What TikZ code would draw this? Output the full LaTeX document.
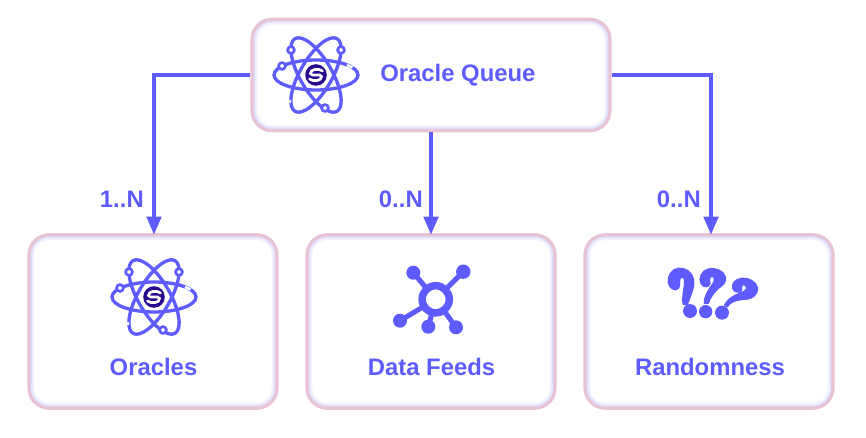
\documentclass[tikz,border=0pt]{standalone}
\usepackage{fontspec}
\setmainfont{Liberation Sans}
\usetikzlibrary{arrows.meta}
\definecolor{vio}{HTML}{5F5CFF}
\definecolor{pinkb}{HTML}{E9C2D6}
\definecolor{glowa}{HTML}{F3F3FF}
\definecolor{glowb}{HTML}{E0E0FF}
\definecolor{navy}{HTML}{2A0A8C}
\tikzset{
  x=0.75pt,y=-0.75pt,
  card/.style={rounded corners=15pt,draw=pinkb,line width=2.4pt,inner sep=0pt,fill=white,
    path picture={
      \draw[glowa,line width=8pt,rounded corners=15pt] (path picture bounding box.south west) rectangle (path picture bounding box.north east);
      \draw[glowb,line width=5pt,rounded corners=15pt] (path picture bounding box.south west) rectangle (path picture bounding box.north east);
    }},
  lab/.style={font=\bfseries\fontsize{17.9pt}{20pt}\selectfont,text=vio,inner sep=0pt},
  link/.style={draw=vio,line width=2.3pt,-{Triangle[length=13.5pt,width=11pt]}},
  spoke/.style={draw=vio,line width=3.8pt},
  orbit/.style={draw=vio,line width=2.5pt},
  pics/atom/.style={code={
    \draw[orbit] (0,0) ellipse [x radius=42,y radius=15];
    \draw[orbit,rotate=60] (0,0) ellipse [x radius=42,y radius=16];
    \draw[orbit,rotate=-60] (0,0) ellipse [x radius=42,y radius=16];
    \draw[white,line width=2pt] (36.5,-7.5) -- (31,-10);
    \draw[white,line width=2pt] (-30,25) -- (-25,27);
    \foreach \p in {(-25,-25),(25,-25),(-34,-9),(9,33)}
      \draw[orbit,fill=white,line width=2pt] \p circle (3.4);
    \fill[navy] (0,0) circle (10.8);
    \draw[white,line width=2pt,line cap=round] (6.5,-4) .. controls (3,-7) and (-6,-6) .. (-5.5,-1.5)
       .. controls (-5,2) and (5,-2) .. (5.5,1.5) .. controls (6,6) and (-3,7) .. (-6.5,4);
  }}
}
\begin{document}
\begin{tikzpicture}
\useasboundingbox (0,0) rectangle (866,438);
% cards
\node[card,minimum width=268.5pt,minimum height=83.5pt] (q) at (431,75) {};
\node[card,minimum width=186pt,minimum height=130pt] (o) at (153,321.5) {};
\node[card,minimum width=186pt,minimum height=130pt] (d) at (431,321.5) {};
\node[card,minimum width=186pt,minimum height=130pt] (r) at (709,321.5) {};
% connectors
\coordinate (ot) at ([xshift=0.75pt,yshift=-1pt]o.north);
\coordinate (rt) at ([xshift=1.5pt,yshift=-1pt]r.north);
\coordinate (dt) at ([yshift=-1pt]d.north);
\draw[link] (q.west) -| (ot);
\draw[link] (q.south) -- (dt);
\draw[link] (q.east) -| (rt);
% labels
\node[lab,anchor=east] (l1) at (144,199.5) {1..N};
\node[lab,anchor=east] (l2) at (423,199.5) {0..N};
\node[lab,anchor=east] (l3) at (701,199.5) {0..N};
\node[lab,anchor=west] (tq) at (380,75.5) {Oracle Queue};
\node[lab] (to) at (153.5,366.5) {Oracles};
\node[lab] (td) at (431.5,366.5) {Data Feeds};
\node[lab] (tr) at (710,366.5) {Randomness};
% atoms
\pic at (316,75) {atom};
\pic at (154,297) {atom};
% hub
\begin{scope}[shift={(380,250)}]
  \draw[spoke] (55.7,49.3) -- (33.3,22.7);
  \draw[spoke] (55.7,49.3) -- (83.3,21.7);
  \draw[spoke] (55.7,49.3) -- (20,70.7);
  \draw[spoke] (55.7,49.3) -- (48.3,76.7);
  \draw[spoke] (55.7,49.3) -- (76,77.3);
  \fill[vio] (33.3,22.7) circle (7) (83.3,21.7) circle (7.2) (20,70.7) circle (7) (48.3,76.7) circle (7) (76,77.3) circle (7);
  \draw[vio,fill=white,line width=5.6pt] (55.7,49.3) circle (13.6);
\end{scope}
% question marks (drawn in 3x crop units)
\begin{scope}[shift={(650,250)},x=0.25pt,y=-0.25pt]
  \filldraw[vio,line width=1pt,line join=round] (112,163) .. controls (122,135) and (135,110) .. (130,88)
    .. controls (126,65) and (105,53) .. (85,55) .. controls (65,57) and (52,78) .. (55,98)
    .. controls (58,115) and (75,125) .. (85,115) .. controls (92,105) and (85,95) .. (90,85)
    .. controls (95,78) and (105,82) .. (104,95) .. controls (103,120) and (95,140) .. (100,163) -- cycle;
  \filldraw[vio,line width=1pt,line join=round] (175,160) .. controls (180,140) and (195,125) .. (205,115)
    .. controls (220,105) and (230,95) .. (226,80) .. controls (220,62) and (195,52) .. (175,57)
    .. controls (155,62) and (145,85) .. (153,100) .. controls (160,115) and (178,112) .. (180,100)
    .. controls (180,92) and (175,88) .. (180,82) .. controls (188,75) and (197,82) .. (192,95)
    .. controls (185,110) and (163,130) .. (163,160) -- cycle;
  \filldraw[vio,line width=1pt,line join=round] (232,170) .. controls (240,155) and (260,150) .. (280,148)
    .. controls (305,148) and (325,135) .. (322,113) .. controls (318,95) and (295,82) .. (275,85)
    .. controls (255,88) and (245,100) .. (248,115) .. controls (252,128) and (270,130) .. (275,120)
    .. controls (275,113) and (270,110) .. (278,104) .. controls (288,102) and (294,115) .. (285,122)
    .. controls (272,132) and (240,135) .. (224,165) -- cycle;
  \fill[vio] (120,183) circle (21) (167,185) circle (20) (216,188) circle (21);
\end{scope}
\end{tikzpicture}
\end{document}
